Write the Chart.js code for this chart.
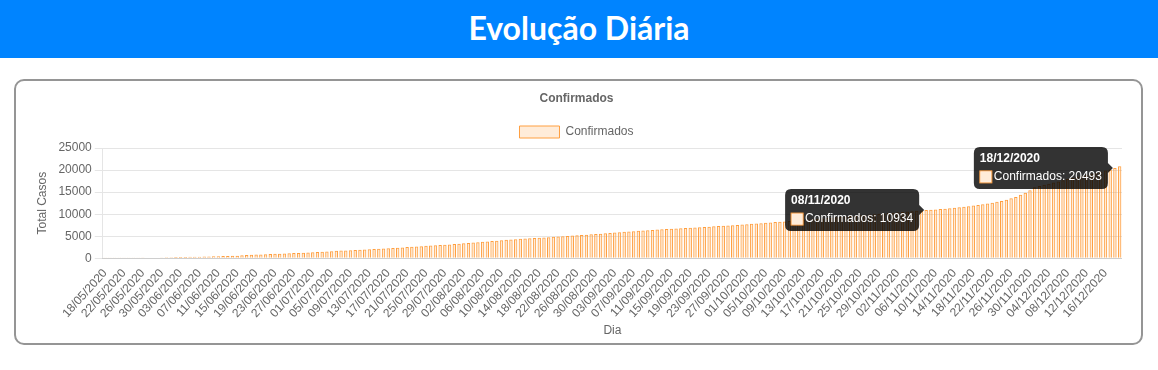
<!DOCTYPE html>
<html lang="pt-BR">
<head>
<meta charset="utf-8">
<title>Evolução Diária</title>
<script src="https://cdn.jsdelivr.net/npm/chart.js@4"></script>
<style>
  body { margin: 0; background: #fff; font-family: 'Liberation Sans', Arial, sans-serif; }
  .topo {
    height: 58px; background: #0084ff; color: #fff; text-align: center;
    font: 700 32px Lato, 'Noto Sans', sans-serif; line-height: 56px;
  }
  .card {
    position: absolute; left: 14px; top: 79px; width: 1125px; height: 262px;
    border: 2px solid #959595; border-radius: 10px;
  }
  .grafico { position: absolute; left: 15px; top: 2px; width: 1091px; height: 258px; }
</style>
</head>
<body>
<div class="topo">Evolução Diária</div>
<div class="card">
  <div class="grafico"><canvas id="chart"></canvas></div>
</div>

<script>
// casos confirmados acumulados, 18/05/2020 a 19/12/2020
const maio = [40, 48, 55, 63, 70, 78, 85, 92, 100, 108, 115, 150, 190, 230];
const junho = [255, 280, 300, 318, 335, 352, 380, 405, 428, 450, 478, 502, 530, 566, 600,
  680, 760, 830, 862, 895, 930, 968, 1010, 1050, 1095, 1140, 1182, 1228, 1270, 1312];
const julho = [1350, 1420, 1495, 1560, 1622, 1690, 1750, 1801, 1853, 1900, 1948, 1990, 2035, 2090, 2148,
  2200, 2271, 2340, 2412, 2480, 2551, 2622, 2700, 2762, 2825, 2890, 2956, 3020, 3088, 3150, 3236];
const agosto = [3322, 3405, 3490, 3583, 3668, 3750, 3836, 3921, 4010, 4095, 4183, 4268, 4350, 4412, 4478,
  4540, 4605, 4668, 4735, 4800, 4868, 4941, 5013, 5085, 5158, 5230, 5300, 5371, 5447, 5520, 5598];
const setembro = [5672, 5750, 5831, 5912, 5995, 6072, 6150, 6222, 6295, 6368, 6440, 6512, 6580, 6650, 6708,
  6766, 6822, 6880, 6938, 6995, 7050, 7112, 7178, 7243, 7308, 7372, 7436, 7500, 7578, 7655];
const outubro = [7735, 7812, 7893, 7972, 8050, 8131, 8210, 8290, 8372, 8450, 8538, 8622, 8710, 8795, 8880,
  8966, 9050, 9138, 9221, 9308, 9392, 9480, 9565, 9650, 9738, 9822, 9908, 9993, 10080, 10164, 10250];
const novembro = [10335, 10420, 10508, 10592, 10678, 10765, 10850, 10934, 11012, 11090, 11170, 11258, 11350,
  11455, 11562, 11680, 11810, 11955, 12095, 12240, 12430, 12622, 12810, 13000, 13280, 13590, 13900,
  14380, 14870, 15400];
const dezembro = [16100, 16380, 16650, 16905, 17160, 17420, 17690, 17950, 18205, 18460, 18710, 18955,
  19190, 19420, 19650, 19880, 20150, 20493, 20890];

const confirmados = [].concat(maio, junho, julho, agosto, setembro, outubro, novembro, dezembro);

const pad = n => String(n).padStart(2, '0');
const dias = confirmados.map((_, i) => {
  const d = new Date(2020, 4, 18 + i);
  return pad(d.getDate()) + '/' + pad(d.getMonth() + 1) + '/' + d.getFullYear();
});

const yTicks = [0, 5000, 10000, 15000, 20000, 25000];
const destaques = ['08/11/2020', '18/12/2020'];

// desenha as tooltips fixas dos dias em destaque
const tooltipsFixas = {
  id: 'tooltipsFixas',
  afterDraw(chart) {
    const Tooltip = chart.tooltip.constructor;
    destaques.forEach(dia => {
      const index = dias.indexOf(dia);
      const bar = chart.getDatasetMeta(0).data[index];
      const tt = new Tooltip({ chart, options: chart.tooltip.options });
      tt.setActiveElements([{ datasetIndex: 0, index }], { x: bar.x, y: bar.y });
      tt.draw(chart.ctx);
    });
  }
};

Chart.defaults.font.family = "'Liberation Sans', Arial, sans-serif";
Chart.defaults.font.size = 12;
Chart.defaults.color = '#666';

new Chart(document.getElementById('chart'), {
  type: 'bar',
  data: {
    labels: dias,
    datasets: [{
      label: 'Confirmados',
      data: confirmados,
      backgroundColor: 'rgba(255, 159, 64, 0.2)',
      borderColor: 'rgba(255, 159, 64, 1)',
      borderWidth: 1
    }]
  },
  options: {
    responsive: true,
    maintainAspectRatio: false,
    animation: false,
    events: [],
    plugins: {
      title: {
        display: true,
        text: 'Confirmados',
        font: { size: 12, weight: 'bold', lineHeight: 1 },
        padding: 10
      },
      legend: {
        labels: { boxWidth: 40, padding: 11 }
      },
      tooltip: {
        backgroundColor: 'rgba(0, 0, 0, 0.8)',
        titleFont: { size: 12, weight: 'bold', lineHeight: 1 },
        bodyFont: { size: 12, lineHeight: 1 },
        padding: 6,
        cornerRadius: 6,
        caretSize: 5,
        callbacks: {
          label: c => c.dataset.label + ': ' + c.raw
        }
      }
    },
    scales: {
      x: {
        grid: { display: false },
        title: { display: true, text: 'Dia', padding: { top: 3, bottom: 3 } },
        ticks: {
          autoSkip: false,
          padding: 0,
          minRotation: 48,
          maxRotation: 48,
          callback(value, index) {
            return index % 4 === 0 ? this.getLabelForValue(value) : null;
          }
        }
      },
      y: {
        min: yTicks[0],
        max: yTicks[yTicks.length - 1],
        title: { display: true, text: 'Total Casos', padding: { top: 4, bottom: 6 } },
        ticks: {
          stepSize: yTicks[1] - yTicks[0],
          padding: 3,
          callback: v => String(v)
        }
      }
    }
  },
  plugins: [tooltipsFixas]
});
</script>
</body>
</html>
